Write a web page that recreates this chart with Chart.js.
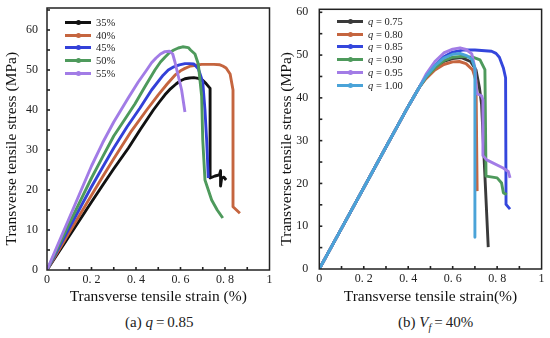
<!DOCTYPE html>
<html>
<head>
<meta charset="utf-8">
<script src="https://cdn.jsdelivr.net/npm/chart.js@4.4.1/dist/chart.umd.min.js"></script>
<style>
    body { margin: 0; width: 550px; height: 338px; background: #fff; overflow: hidden;
           font-family: "Liberation Serif", "Times New Roman", serif; color: #222; }
    .panel { position: absolute; top: 0; width: 275px; height: 310px; }
    .panel canvas { display: block; }
    #panel-a { left: 0; }
    #panel-b { left: 275px; }
    .legend { position: absolute; font-size: 10.5px; }
    .legend-item { display: flex; align-items: center; height: 12.8px; white-space: nowrap; }
    .legend-line { position: relative; width: 26px; height: 3px; margin-right: 5px; }
    .legend-line::after { content: ''; position: absolute; left: 11px; top: -1px; width: 5px; height: 5px;
                          border-radius: 50%; background: inherit; }
    .caption { position: absolute; top: 314px; font-size: 15px; line-height: 17px; white-space: nowrap; }
    .caption sub { font-size: 10px; }
</style>
</head>
<body>
<div class="panel" id="panel-a"><canvas id="chart-a" width="275" height="310"></canvas></div>
<div class="panel" id="panel-b"><canvas id="chart-b" width="275" height="310"></canvas></div>
<div class="legend" id="legend-a" style="left:65px; top:16px;"></div>
<div class="legend" id="legend-b" style="left:337px; top:15px;"></div>
<div class="caption" style="left:125px;">(a) <i>q</i>&thinsp;=&thinsp;0.85</div>
<div class="caption" style="left:398px;">(b) <i>V<sub>f</sub></i>&thinsp;=&thinsp;40%</div>

<script>
// --- Data: [strain %, stress MPa] ---
// (a) fibre volume fraction, q = 0.85
const a35 = [[0,0],[0.1,8.5],[0.2,17],[0.25,21.2],[0.3,25.3],[0.366,30.5],[0.42,35.2],[0.478,40],[0.505,42],
             [0.53,43.8],[0.555,45.3],[0.58,46.5],[0.6,47.3],[0.62,47.8],[0.64,48],[0.66,48.1],[0.68,47.9],
             [0.7,47.4],[0.715,46.6],[0.733,45.4],[0.733,23],[0.755,23.5],[0.775,23.8],[0.78,24.8],
             [0.78,21],[0.785,23],[0.795,23.2],[0.805,22.5]];
const a40 = [[0,0],[0.1,9.4],[0.2,18.7],[0.25,23.3],[0.3,27.8],[0.38,34.8],[0.448,40],[0.5,43.8],[0.54,46.5],
             [0.575,48.7],[0.6,49.8],[0.62,50.4],[0.645,51],[0.67,51.2],[0.695,51.4],[0.72,51.4],[0.75,51.4],
             [0.777,51.3],[0.79,51],[0.805,50.5],[0.823,49],[0.836,45],[0.836,15.8],[0.867,14.2]];
const a45 = [[0,0],[0.1,10.5],[0.2,20.8],[0.25,25.7],[0.3,30.5],[0.36,35.8],[0.418,40.5],[0.47,45],[0.522,48.7],
             [0.545,50],[0.57,50.8],[0.595,51.3],[0.62,51.6],[0.64,51.6],[0.66,51.5],[0.68,50.3],[0.7,47],
             [0.71,40],[0.718,32],[0.725,23]];
const a50 = [[0,0],[0.1,11.6],[0.2,23],[0.25,28.3],[0.3,33.5],[0.35,37.7],[0.395,41.5],[0.44,45.8],[0.485,50],
             [0.51,52],[0.53,53.2],[0.55,54.3],[0.57,55],[0.59,55.5],[0.61,55.8],[0.635,55.6],[0.645,55],
             [0.665,54],[0.68,51.5],[0.695,43.5],[0.7,32.5],[0.71,22.5],[0.74,17.5],[0.765,15],[0.79,13]];
const a55 = [[0,0],[0.1,13],[0.2,26],[0.25,31.8],[0.3,37],[0.365,43],[0.41,47],[0.448,50],[0.47,51.8],[0.49,53],
             [0.51,54],[0.53,54.6],[0.55,54.7],[0.565,54],[0.575,52],[0.59,48.5],[0.605,45],[0.62,39.5]];
const labelsA = ['35%', '40%', '45%', '50%', '55%'];

// (b) volume fraction Vf = 40%
const b075 = [[0,0],[0.1,9.5],[0.2,19],[0.3,28.5],[0.4,38],[0.45,42.5],[0.48,44.8],[0.52,47],[0.56,48.5],[0.6,49.2],
              [0.64,49.4],[0.68,48.5],[0.705,46.5],[0.72,42.5],[0.73,38.5],[0.76,5.1]];
const b080 = [[0,0],[0.1,9.5],[0.2,19],[0.3,28.5],[0.4,38],[0.45,42.5],[0.48,44.5],[0.52,46.5],[0.56,47.8],[0.6,48.4],
              [0.63,48.5],[0.66,48],[0.69,46.5],[0.705,44],[0.71,18.2]];
const b085 = [[0,0],[0.1,9.5],[0.2,19],[0.3,28.5],[0.4,38],[0.45,42.5],[0.48,45],[0.52,47.5],[0.56,49.6],[0.6,50.7],
              [0.65,51.2],[0.7,51.2],[0.775,50.9],[0.795,50.4],[0.81,49.5],[0.828,47],[0.838,44.7],[0.84,15.1],[0.858,14]];
const b090 = [[0,0],[0.1,9.5],[0.2,19],[0.3,28.5],[0.4,38],[0.45,42.5],[0.48,44.8],[0.52,47],[0.56,48.7],[0.6,49.5],
              [0.64,49.7],[0.69,49.5],[0.723,48.9],[0.745,46.6],[0.75,21.7],[0.8,21.3],[0.82,20.1],[0.828,17.8],[0.843,17.4]];
const b095 = [[0,0],[0.1,9.5],[0.2,19],[0.3,28.5],[0.4,38],[0.45,42.5],[0.48,45.5],[0.52,48.5],[0.56,50.5],[0.6,51.4],
              [0.633,51.7],[0.66,51.3],[0.686,50.3],[0.7,47],[0.708,41],[0.73,40.5],[0.736,39.5],[0.736,26.5],
              [0.753,25.5],[0.827,23.6],[0.85,22.8],[0.858,21.3]];
const b100 = [[0,0],[0.1,9.5],[0.2,19],[0.3,28.5],[0.4,38],[0.45,42.5],[0.48,45],[0.52,47.5],[0.56,49.3],[0.6,50.2],
              [0.633,50.4],[0.665,49.8],[0.686,49],[0.7,47],[0.7,7.4]];
const labelsB = ['q = 0.75', 'q = 0.80', 'q = 0.85', 'q = 0.90', 'q = 0.95', 'q = 1.00'];

// --- Ticks ---
const xTicks = [0, 0.1, 0.2, 0.3, 0.4, 0.5, 0.6, 0.7, 0.8, 0.9, 1];
const xTickLabels = ['0', '', '0. 2', '', '0. 4', '', '0. 6', '', '0. 8', '', '1'];
const yTicksA = [0, 5, 10, 15, 20, 25, 30, 35, 40, 45, 50, 55, 60, 65];
const yTicksB = [0, 5, 10, 15, 20, 25, 30, 35, 40, 45, 50, 55, 60];

const colorsA = ['#111111', '#c5653f', '#3340d8', '#4e9a5c', '#a27ce6'];
const colorsB = ['#3a3a3a', '#c5653f', '#3446dc', '#4e9a5c', '#a27ce6', '#4aa3d8'];

const FONT = '"Liberation Serif", "Times New Roman", serif';

// draws the box round the plot and the small inward tick marks
const frameTicks = {
    id: 'frameTicks',
    afterDatasetsDraw(chart) {
        const { ctx, chartArea: a, scales: { x, y } } = chart;
        ctx.save();
        ctx.strokeStyle = '#222';
        ctx.lineWidth = 1.5;
        ctx.strokeRect(a.left, a.top, a.right - a.left, a.bottom - a.top);
        ctx.lineWidth = 1.6;
        x.ticks.forEach(t => {
            const px = x.getPixelForValue(t.value);
            if (px <= a.left + 1 || px >= a.right - 1) return;
            ctx.beginPath(); ctx.moveTo(px, a.bottom); ctx.lineTo(px, a.bottom - 3); ctx.stroke();
        });
        y.ticks.forEach(t => {
            const py = y.getPixelForValue(t.value);
            if (py >= a.bottom - 1 || py <= a.top + 1) return;
            ctx.beginPath(); ctx.moveTo(a.left, py); ctx.lineTo(a.left + 3, py); ctx.stroke();
        });
        ctx.restore();
    }
};

// fixed box sizes so the plot area lands where it is in the figure
function fixBox(s, size) {
    if (s.isHorizontal()) s.height = size; else s.width = size;
    s.paddingTop = 0; s.paddingBottom = 0; s.paddingLeft = 0; s.paddingRight = 0;
}

function makeChart(canvasId, series, labels, colors, cfg) {
    const datasets = series.map((pts, i) => ({
        label: labels[i],
        data: pts.map(([x, y]) => ({ x, y })),
        borderColor: colors[i],
        borderWidth: 2.9,
        borderJoinStyle: 'round',
        pointRadius: 0,
        tension: 0,
        fill: false,
        order: -i   // later series drawn on top
    }));

    return new Chart(document.getElementById(canvasId), {
        type: 'line',
        data: { datasets },
        plugins: [frameTicks],
        options: {
            responsive: false,
            animation: false,
            events: [],
            layout: { padding: { left: 0, top: cfg.top, right: cfg.right, bottom: 0 } },
            plugins: { legend: { display: false }, tooltip: { enabled: false } },
            scales: {
                x: {
                    type: 'linear', min: 0, max: 1,
                    grid: { display: false, drawTicks: false },
                    border: { display: false },
                    afterBuildTicks: s => { s.ticks = xTicks.map(v => ({ value: v })); },
                    afterFit: s => fixBox(s, cfg.xHeight),
                    ticks: {
                        autoSkip: false, maxRotation: 0, padding: 3, color: '#222',
                        font: { family: FONT, size: 12 },
                        callback: (v) => xTickLabels[xTicks.indexOf(Math.round(v * 10) / 10)] ?? ''
                    },
                    title: {
                        display: true, text: cfg.xTitle, color: '#111',
                        font: { family: FONT, size: 15.5 }, padding: { top: 0, bottom: 4 }
                    }
                },
                y: {
                    type: 'linear', min: 0, max: cfg.yMax,
                    grid: { display: false, drawTicks: false },
                    border: { display: false },
                    afterBuildTicks: s => { s.ticks = cfg.yTicks.map(v => ({ value: v })); },
                    afterFit: s => fixBox(s, cfg.yWidth),
                    ticks: {
                        autoSkip: false, padding: cfg.yPad, color: '#222',
                        font: { family: FONT, size: 12 },
                        callback: (v) => (v % 10 === 0 ? String(v) : '')
                    },
                    title: {
                        // trailing spaces push the centred title a little down, as in the figure
                        display: true, text: 'Transverse tensile stress (MPa)     ', color: '#111',
                        font: { family: FONT, size: 15.5 }, padding: { top: 3, bottom: 0 }
                    }
                }
            }
        }
    });
}

function buildLegend(containerId, labels, colors) {
    const box = document.getElementById(containerId);
    box.innerHTML = '';
    labels.forEach((lab, i) => {
        const item = document.createElement('div');
        item.className = 'legend-item';
        const text = lab.startsWith('q') ? `<i>q</i>${lab.slice(1)}` : lab;
        item.innerHTML = `<div class="legend-line" style="background-color:${colors[i]}"></div><span>${text}</span>`;
        box.appendChild(item);
    });
}

document.addEventListener('DOMContentLoaded', () => {
    makeChart('chart-a', [a35, a40, a45, a50, a55], labelsA, colorsA, {
        top: 8, right: 5.5, xHeight: 40, yWidth: 47, yPad: 9, yMax: 65.5, yTicks: yTicksA,
        xTitle: 'Transverse tensile strain (%)'
    });
    makeChart('chart-b', [b075, b080, b085, b090, b095, b100], labelsB, colorsB, {
        top: 9.3, right: 8.4, xHeight: 41, yWidth: 44.3, yPad: 11, yMax: 60.7, yTicks: yTicksB,
        xTitle: 'Transverse tensile strain(%)'
    });
    buildLegend('legend-a', labelsA, colorsA);
    buildLegend('legend-b', labelsB, colorsB);
});
</script>
</body>
</html>
